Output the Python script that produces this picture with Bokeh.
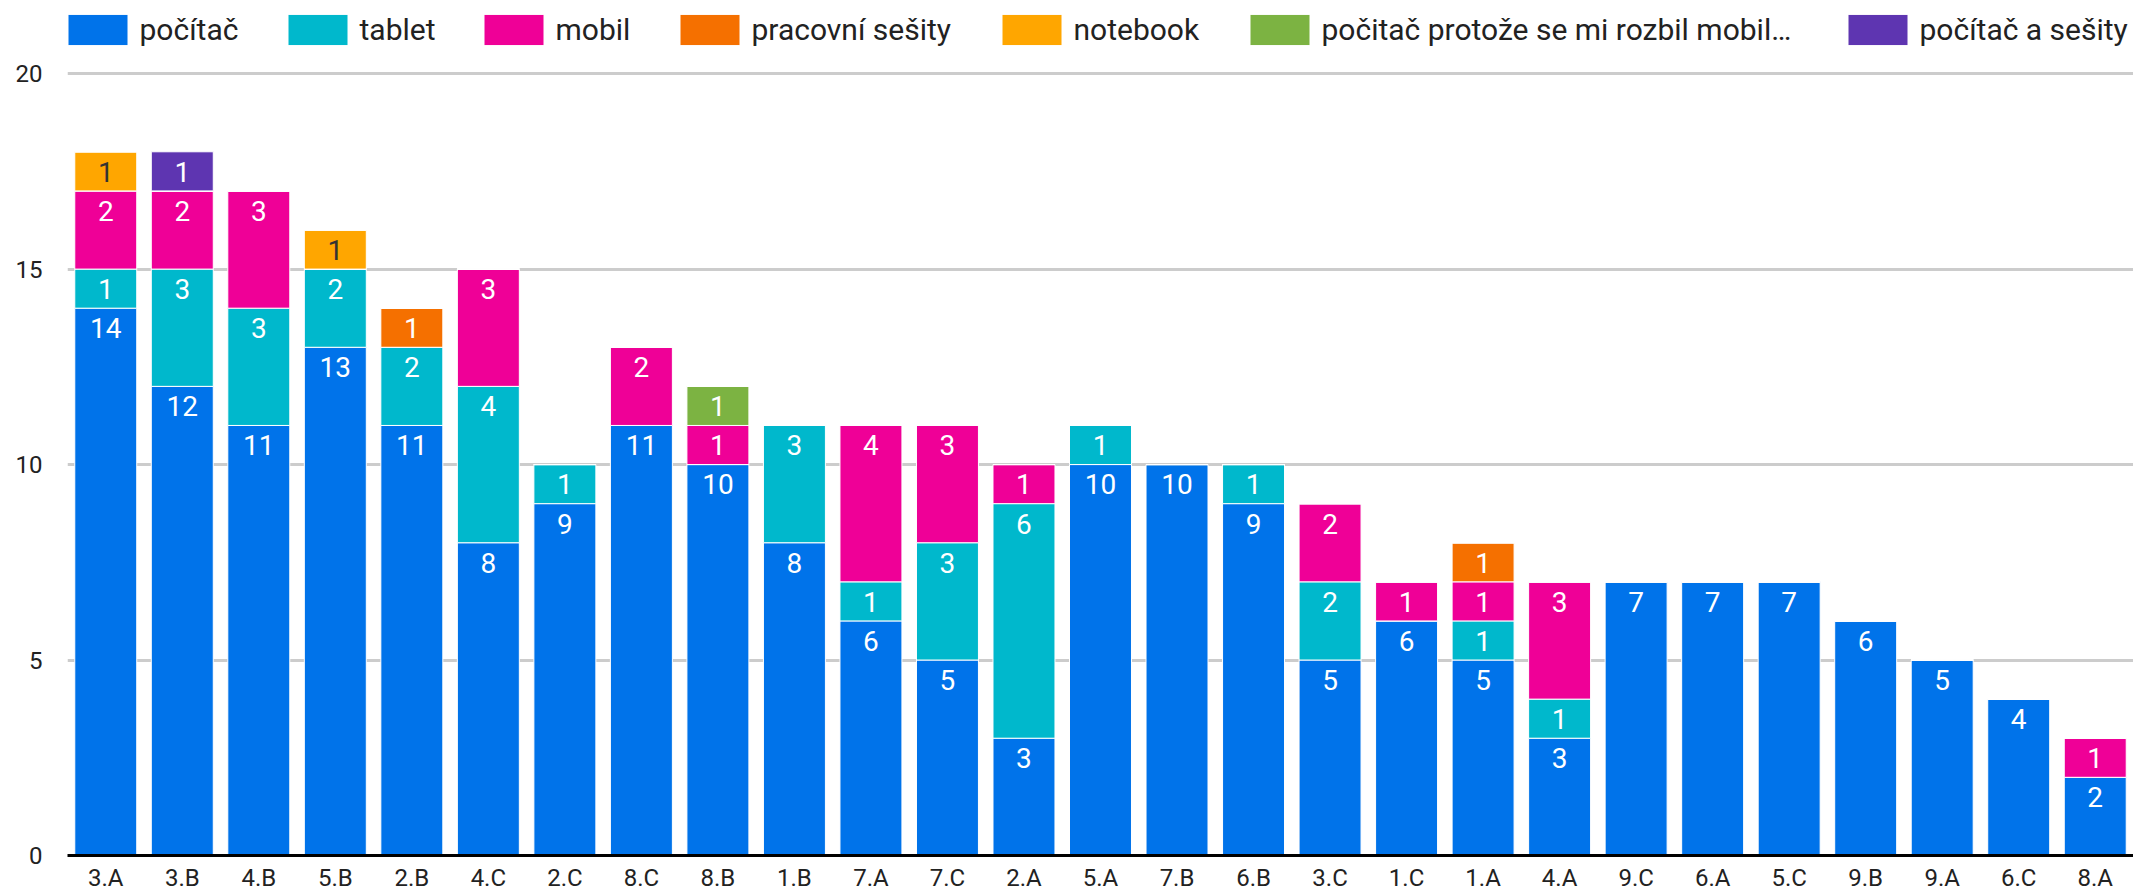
from bokeh.plotting import figure
from bokeh.models import ColumnDataSource, FactorRange, Range1d, FixedTicker, Legend, LegendItem
from bokeh.core.properties import value
from bokeh.embed import file_html
from bokeh.resources import INLINE

classes = ["3.A", "3.B", "4.B", "5.B", "2.B", "4.C", "2.C", "8.C", "8.B", "1.B",
           "7.A", "7.C", "2.A", "5.A", "7.B", "6.B", "3.C", "1.C", "1.A", "4.A",
           "9.C", "6.A", "5.C", "9.B", "9.A", "6.C", "8.A"]

pocitac = [14, 12, 11, 13, 11, 8, 9, 11, 10, 8, 6, 5, 3, 10, 10, 9, 5, 6, 5, 3, 7, 7, 7, 6, 5, 4, 2]
tablet = [1, 3, 3, 2, 2, 4, 1, 0, 0, 3, 1, 3, 6, 1, 0, 1, 2, 0, 1, 1, 0, 0, 0, 0, 0, 0, 0]
mobil = [2, 2, 3, 0, 0, 3, 0, 2, 1, 0, 4, 3, 1, 0, 0, 0, 2, 1, 1, 3, 0, 0, 0, 0, 0, 0, 1]
pracovni_sesity = [0, 0, 0, 0, 1, 0, 0, 0, 0, 0, 0, 0, 0, 0, 0, 0, 0, 0, 1, 0, 0, 0, 0, 0, 0, 0, 0]
notebook = [1, 0, 0, 1, 0, 0, 0, 0, 0, 0, 0, 0, 0, 0, 0, 0, 0, 0, 0, 0, 0, 0, 0, 0, 0, 0, 0]
rozbil_mobil = [0, 0, 0, 0, 0, 0, 0, 0, 1, 0, 0, 0, 0, 0, 0, 0, 0, 0, 0, 0, 0, 0, 0, 0, 0, 0, 0]
pocitac_sesity = [0, 1, 0, 0, 0, 0, 0, 0, 0, 0, 0, 0, 0, 0, 0, 0, 0, 0, 0, 0, 0, 0, 0, 0, 0, 0, 0]

series_names = ["počítač", "tablet", "mobil", "pracovní sešity", "notebook",
                "počitač protože se mi rozbil mobil…", "počítač a sešity"]
series_values = [pocitac, tablet, mobil, pracovni_sesity, notebook, rozbil_mobil, pocitac_sesity]
colors = ["#0073ea", "#00b8cc", "#ef0097", "#f57000", "#ffa600", "#7cb342", "#5e35b1"]
label_colors = ["white", "white", "white", "white", "#333333", "white", "white"]

y_ticks = [0, 5, 10, 15, 20]

# layout constants (screen px): left edge of each legend swatch
LEGEND_SWATCH_X = [67, 287, 483, 679, 1001, 1249, 1847]
FRAME_LEFT = 67

keys = ["s%d" % i for i in range(len(series_names))]
data = {"cls": classes}
for k, vals in zip(keys, series_values):
    data[k] = vals
src = ColumnDataSource(data)

p = figure(x_range=FactorRange(factors=classes, range_padding=0),
           y_range=Range1d(0, 21.87),
           width=2133, height=894,
           output_backend="svg", toolbar_location=None,
           min_border_left=FRAME_LEFT, min_border_right=0, min_border_top=0, min_border_bottom=39)
p.outline_line_color = None

renderers = p.vbar_stack(keys, x="cls", width=0.81, source=src,
                         fill_color=colors, line_color="white", line_width=1)

# value labels
lx, ly, lt, lc = [], [], [], []
cum = [0] * len(classes)
for vals, col in zip(series_values, label_colors):
    for i, v in enumerate(vals):
        if v > 0:
            top = cum[i] + v
            lx.append(classes[i])
            ly.append(top - 0.51)
            lt.append(str(v))
            lc.append(col)
        cum[i] += v
lsrc = ColumnDataSource(dict(x=lx, y=ly, t=lt, c=lc))
p.text(x="x", y="y", text="t", text_color="c", source=lsrc,
       text_align="center", text_baseline="middle",
       text_font=value("Roboto"), text_font_size="28px")

# axes
p.xaxis.axis_line_width = 3
p.xaxis.axis_line_color = "black"
p.xaxis.major_tick_line_color = None
p.xaxis.minor_tick_line_color = None
p.xaxis.major_tick_out = 0
p.xaxis.major_tick_in = 0
p.xaxis.major_label_text_font = "Roboto"
p.xaxis.major_label_text_font_size = "24px"
p.xaxis.major_label_text_color = "#222222"
p.xaxis.major_label_standoff = 8
p.xgrid.grid_line_color = None

p.yaxis.ticker = FixedTicker(ticks=y_ticks)
p.yaxis.axis_line_color = None
p.yaxis.major_tick_line_color = None
p.yaxis.minor_tick_line_color = None
p.yaxis.major_tick_out = 0
p.yaxis.major_tick_in = 0
p.yaxis.major_label_text_font = "Roboto"
p.yaxis.major_label_text_font_size = "24px"
p.yaxis.major_label_text_color = "#222222"
p.yaxis.major_label_standoff = 25
p.ygrid.ticker = FixedTicker(ticks=y_ticks)
p.ygrid.grid_line_color = "#cccccc"
p.ygrid.grid_line_width = 3

for name, r, sx in zip(series_names, renderers, LEGEND_SWATCH_X):
    lg = Legend(items=[LegendItem(label=name, renderers=[r])], orientation="horizontal",
                location=(sx - FRAME_LEFT - 7.5, 806),
                glyph_width=75, glyph_height=39, label_standoff=5, spacing=0,
                padding=0, margin=0, border_line_color=None, background_fill_alpha=0,
                label_text_font="Roboto", label_text_font_size="30px",
                label_text_color="#222222")
    p.add_layout(lg, "center")

open("out.html", "w").write(file_html(p, INLINE))
